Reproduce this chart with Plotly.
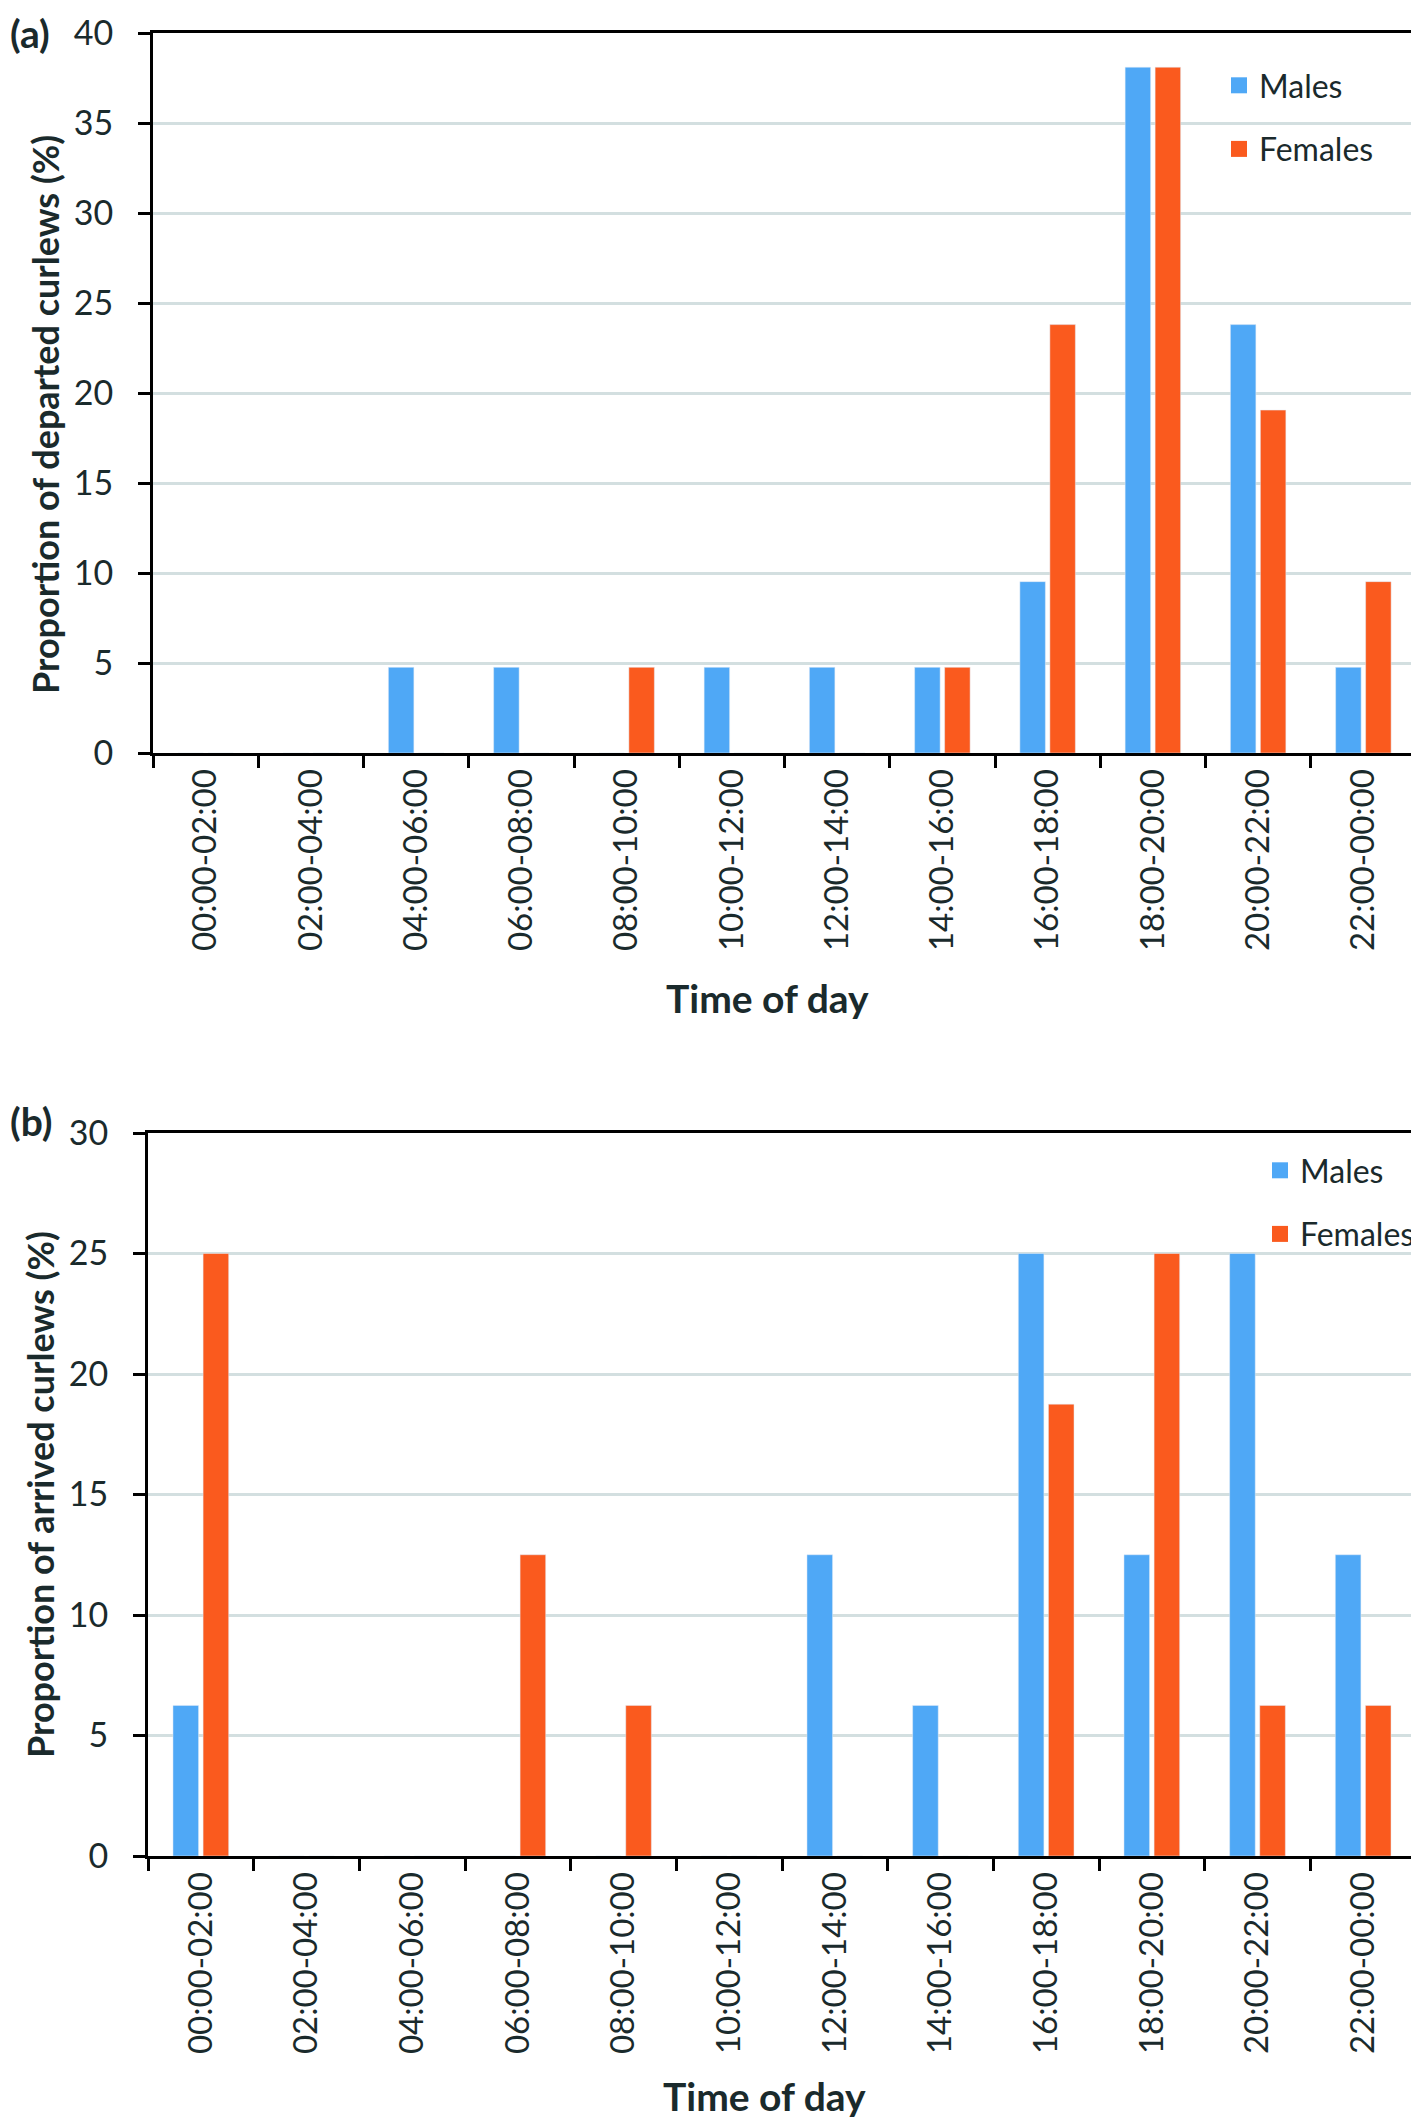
import plotly.graph_objects as go

categories = ["00:00-02:00", "02:00-04:00", "04:00-06:00", "06:00-08:00",
              "08:00-10:00", "10:00-12:00", "12:00-14:00", "14:00-16:00",
              "16:00-18:00", "18:00-20:00", "20:00-22:00", "22:00-00:00"]

# Panel (a): departures (%)
dep_males = [0, 0, 4.76, 4.76, 0, 4.76, 4.76, 4.76, 9.52, 38.1, 23.8, 4.76]
dep_females = [0, 0, 0, 0, 4.76, 0, 0, 4.76, 23.8, 38.1, 19.05, 9.52]

# Panel (b): arrivals (%)
arr_males = [6.25, 0, 0, 0, 0, 0, 12.5, 6.25, 25, 12.5, 25, 12.5]
arr_females = [25, 0, 0, 12.5, 6.25, 0, 0, 0, 18.75, 25, 6.25, 6.25]

yticks_a = [0, 5, 10, 15, 20, 25, 30, 35, 40]
yticks_b = [0, 5, 10, 15, 20, 25, 30]

OFF = 8                      # default page (body) margin
W, H = 1419 - OFF, 2122 - OFF
BLUE = "#4fa8f6"
ORANGE = "#fa5a1e"
TXT = "#1a2a2c"
GRID = "#d3dfe0"
FONT = "Lato"


def px_x(x):
    return (x - OFF) / W


def px_y(y):
    return 1 - (y - OFF) / H


fig = go.Figure()

fig.add_trace(go.Bar(x=categories, y=dep_males, name="Males", marker_color=BLUE,
                     xaxis="x", yaxis="y", showlegend=False))
fig.add_trace(go.Bar(x=categories, y=dep_females, name="Females", marker_color=ORANGE,
                     xaxis="x", yaxis="y", showlegend=False))
fig.add_trace(go.Bar(x=categories, y=arr_males, name="Males", marker_color=BLUE,
                     xaxis="x2", yaxis="y2", showlegend=False))
fig.add_trace(go.Bar(x=categories, y=arr_females, name="Females", marker_color=ORANGE,
                     xaxis="x2", yaxis="y2", showlegend=False))

# legend entries (square swatches)
for name, col, xa, ya, leg, grp in [("Males", BLUE, "x", "y", "legend", "m"),
                                    ("Females", ORANGE, "x", "y", "legend", "f"),
                                    ("Males", BLUE, "x2", "y2", "legend2", "m2"),
                                    ("Females", ORANGE, "x2", "y2", "legend2", "f2")]:
    fig.add_trace(go.Scatter(x=[categories[0]], y=[None], mode="markers", name=name,
                             marker=dict(symbol="square", size=16, color=col),
                             xaxis=xa, yaxis=ya, legend=leg, legendgroup=grp,
                             hoverinfo="skip"))

xcommon = dict(type="category", tickson="boundaries", ticks="outside", ticklen=12,
               tickwidth=3, tickcolor="black", showline=True, linewidth=3,
               linecolor="black", mirror=True, tickangle=-90, showgrid=False,
               automargin=False, range=[-0.5, len(categories) - 0.5],
               categoryorder="array", categoryarray=categories,
               tickfont=dict(family=FONT, size=33, color=TXT))
ycommon = dict(ticks="outside", ticklen=12, tickwidth=3, tickcolor="black",
               showline=True, linewidth=3, linecolor="black", mirror=True,
               showgrid=True, gridcolor=GRID, gridwidth=3, zeroline=False,
               automargin=False,
               tickfont=dict(family=FONT, size=34, color=TXT), ticklabelstandoff=18)

fig.update_layout(
    width=W, height=H, autosize=False,
    margin=dict(l=0, r=0, t=0, b=0, autoexpand=False),
    paper_bgcolor="white", plot_bgcolor="white",
    barmode="group", bargap=0.43, bargroupgap=0.15,
    xaxis=dict(domain=[px_x(153), px_x(1416)], anchor="y", **xcommon),
    yaxis=dict(domain=[px_y(753), px_y(33)], anchor="x", range=[0, 40],
               tickvals=yticks_a, **ycommon),
    xaxis2=dict(domain=[px_x(148), px_x(1416)], anchor="y2", **xcommon),
    yaxis2=dict(domain=[px_y(1856), px_y(1133)], anchor="x2", range=[0, 30],
                tickvals=yticks_b, **ycommon),
    legend=dict(x=px_x(1219), y=px_y(58), xanchor="left", yanchor="top",
                bgcolor="rgba(0,0,0,0)", tracegroupgap=19,
                font=dict(family=FONT, size=32, color=TXT)),
    legend2=dict(x=px_x(1260), y=px_y(1143), xanchor="left", yanchor="top",
                 bgcolor="rgba(0,0,0,0)", tracegroupgap=19,
                 font=dict(family=FONT, size=32, color=TXT)),
)

tfont = dict(family=FONT, size=39, color=TXT)
yfont = dict(family=FONT, size=36, color=TXT)
annotations = [
    dict(text="<b>(a)</b>", x=px_x(8), y=px_y(8), xanchor="left", yanchor="top", font=tfont),
    dict(text="<b>(b)</b>", x=px_x(8), y=px_y(1121), xanchor="left", yanchor="middle", font=tfont),
    dict(text="<b>Time of day</b>", x=px_x(767), y=px_y(998), xanchor="center", yanchor="middle", font=tfont),
    dict(text="<b>Time of day</b>", x=px_x(764), y=px_y(2096), xanchor="center", yanchor="middle", font=tfont),
    dict(text="<b>Proportion of departed curlews (%)</b>", x=px_x(45), y=px_y(415),
         xanchor="center", yanchor="middle", textangle=-90, font=yfont),
    dict(text="<b>Proportion of arrived curlews (%)</b>", x=px_x(40), y=px_y(1495),
         xanchor="center", yanchor="middle", textangle=-90, font=yfont),
]
for a in annotations:
    a.update(xref="paper", yref="paper", showarrow=False)
fig.update_layout(annotations=annotations)

fig.write_html("out.html")
